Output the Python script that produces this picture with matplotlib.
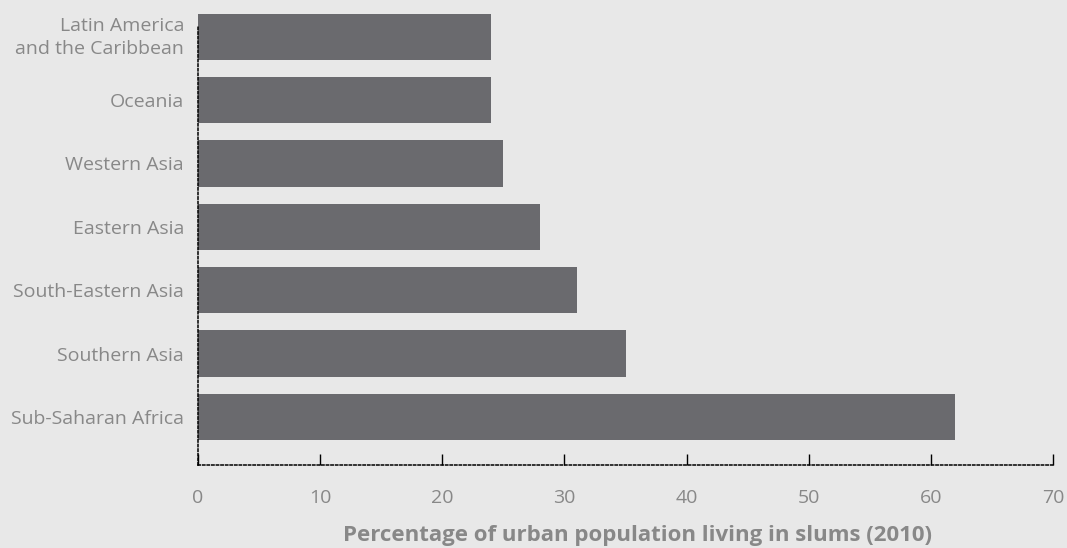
import matplotlib
matplotlib.use("Agg")
import matplotlib.pyplot as plt
import matplotlib.transforms as mtransforms

regions = ["Sub-Saharan Africa", "Southern Asia", "South-Eastern Asia", "Eastern Asia",
           "Western Asia", "Oceania", "Latin America\nand the Caribbean"]
values = [62, 35, 31, 28, 25, 24, 24]
xticks = [0, 10, 20, 30, 40, 50, 60, 70]
xlabel = "Percentage of urban population living in slums (2010)"

bg = "#e8e8e8"
bar_color = "#6a6a6e"
text_color = "#888888"

W, H = 1067, 548
fig = plt.figure(figsize=(W / 100, H / 100), dpi=100, facecolor=bg)
ax = fig.add_axes([198 / W, (H - 465) / H, (1053 - 198) / W, 465 / H])
ax.set_facecolor(bg)

pos = list(range(len(regions)))
ax.barh(pos, values, height=0.73, color=bar_color, zorder=2)

ax.set_xlim(0, 70)
ax.set_ylim(-0.76, 6.58)
ax.set_xticks(xticks)
ax.set_yticks(pos)
ax.set_yticklabels(regions, fontsize=14, color=text_color, family="Open Sans",
                   linespacing=1.35)
ax.set_xticklabels([str(t) for t in xticks], fontsize=14, color=text_color, family="Open Sans")

ax.tick_params(axis="x", direction="in", length=8, width=1, color="black", pad=17)
ax.tick_params(axis="y", direction="in", length=8, width=1, color="black", pad=10)
for t in ax.xaxis.get_ticklines() + ax.yaxis.get_ticklines():
    t.set_linestyle((0, (1, 1)))

# nudge the two-line label up slightly
lbl = ax.get_yticklabels()[-1]
lbl.set_transform(lbl.get_transform() + mtransforms.ScaledTranslation(0, 4 / 100, fig.dpi_scale_trans))

for s in ["top", "right"]:
    ax.spines[s].set_visible(False)
for s in ["left", "bottom"]:
    ax.spines[s].set_linestyle((0, (1.5, 1.5)))
    ax.spines[s].set_linewidth(1.1)
    ax.spines[s].set_color("black")
ax.spines["left"].set_bounds(-0.76, 6.16)

ax.set_xlabel(xlabel, fontsize=16, fontweight="bold", color=text_color,
              family="Open Sans")
ax.xaxis.set_label_coords(0.514, -0.13)

fig.savefig("out.png", dpi=100, facecolor=bg)
